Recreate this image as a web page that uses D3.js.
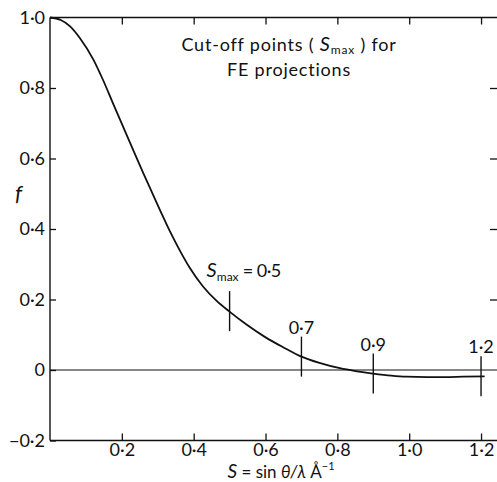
<!DOCTYPE html>
<html>
<head>
<meta charset="utf-8">
<script src="https://cdn.jsdelivr.net/npm/d3@7"></script>
<style>
  body { margin: 0; background: #fff; }
  text { font-family: Lato, "Liberation Sans", sans-serif; fill: #111; }
</style>
</head>
<body>
<svg width="497" height="482"></svg>
<script>
/**Data**/
// scattering factor curve
var sValues = [0, 0.03, 0.056, 0.083, 0.12, 0.148, 0.176, 0.204, 0.232, 0.26, 0.287, 0.311, 0.334, 0.362, 0.389, 0.426, 0.464, 0.498, 0.547, 0.598, 0.65, 0.695, 0.75, 0.807, 0.85, 0.899, 0.95, 0.992, 1.05, 1.1, 1.15, 1.21];
var fValues = [1, 0.993, 0.975, 0.942, 0.882, 0.822, 0.755, 0.689, 0.623, 0.558, 0.497, 0.443, 0.393, 0.338, 0.29, 0.237, 0.196, 0.167, 0.129, 0.094, 0.064, 0.04, 0.02, 0.005, -0.003, -0.01, -0.016, -0.019, -0.02, -0.02, -0.019, -0.018];
// cut-off points
var cutS = [0.5, 0.7, 0.9, 1.2];
var cutF = [0.167, 0.038, -0.01, -0.018];
var cutLabels = ["0·5", "0·7", "0·9", "1·2"];
// ticks
var xTicks = [0.2, 0.4, 0.6, 0.8, 1.0, 1.2];
var xTickLabels = ["0·2", "0·4", "0·6", "0·8", "1·0", "1·2"];
var yTicks = [1.0, 0.8, 0.6, 0.4, 0.2, 0, -0.2];
var yTickLabels = ["1·0", "0·8", "0·6", "0·4", "0·2", "0", "\u22120·2"];

var svg = d3.select("svg");

var x = d3.scaleLinear().domain([0, 1.25]).range([50, 499]);
var y = d3.scaleLinear().domain([-0.2, 1.0]).range([440.5, 17.5]);

var curve = sValues.map(function(s, i) { return [s, fValues[i]]; });

//frame
var frame = svg.append("g").attr("stroke", "#111").attr("stroke-width", 1.4).attr("fill", "none");
frame.append("line").attr("x1", x(0)).attr("x2", x(0)).attr("y1", y(1)).attr("y2", y(-0.2));
frame.append("line").attr("x1", x(0)).attr("x2", 497).attr("y1", y(1)).attr("y2", y(1));
frame.append("line").attr("x1", x(0)).attr("x2", 497).attr("y1", y(-0.2)).attr("y2", y(-0.2));
frame.append("line").attr("x1", x(0)).attr("x2", 497).attr("y1", y(0)).attr("y2", y(0)).attr("stroke-width", 1.1);

//axes: inward ticks on all four sides
var tickLen = 7;
svg.append("g")
	.attr("transform", "translate(0," + y(-0.2) + ")")
	.call(d3.axisBottom(x).tickValues(xTicks).tickSizeInner(-tickLen).tickSizeOuter(0).tickPadding(3)
		.tickFormat(function(d, i) { return xTickLabels[i]; }))
	.call(styleAxis);
svg.append("g")
	.attr("transform", "translate(0," + y(1) + ")")
	.call(d3.axisTop(x).tickValues(xTicks).tickSizeInner(-tickLen).tickSizeOuter(0).tickFormat(""))
	.call(styleAxis);
svg.append("g")
	.attr("transform", "translate(" + x(0) + ",0)")
	.call(d3.axisLeft(y).tickValues(yTicks).tickSizeInner(-6).tickSizeOuter(0).tickPadding(5)
		.tickFormat(function(d, i) { return yTickLabels[i]; }))
	.call(styleAxis);
svg.append("g")
	.attr("transform", "translate(497,0)")
	.call(d3.axisRight(y).tickValues([0.8, 0.6, 0.4, 0.2]).tickSizeInner(-tickLen).tickSizeOuter(0).tickFormat(""))
	.call(styleAxis);

function styleAxis(g) {
	g.select(".domain").remove();
	g.selectAll(".tick line").attr("stroke", "#111").attr("stroke-width", 1.3);
	g.selectAll(".tick text").attr("font-size", 18).attr("font-family", "Lato, sans-serif").attr("fill", "#111");
}

//curve
var line = d3.line()
	.x(function(d) { return x(d[0]); })
	.y(function(d) { return y(d[1]); })
	.curve(d3.curveMonotoneX);
svg.append("path")
	.datum(curve)
	.attr("d", line)
	.attr("fill", "none")
	.attr("stroke", "#111")
	.attr("stroke-width", 1.8);

//cut-off markers
var half = 20;
svg.append("g").selectAll("line")
	.data(cutS)
	.enter().append("line")
	.attr("x1", function(d) { return x(d); })
	.attr("x2", function(d) { return x(d); })
	.attr("y1", function(d, i) { return y(cutF[i]) - half; })
	.attr("y2", function(d, i) { return y(cutF[i]) + half; })
	.attr("stroke", "#111")
	.attr("stroke-width", 1.4);

svg.append("g").selectAll("text")
	.data(cutS.slice(1))
	.enter().append("text")
	.attr("x", function(d) { return x(d); })
	.attr("y", function(d, i) { return y(cutF[i + 1]) - half - 3; })
	.attr("text-anchor", "middle")
	.attr("font-size", 18)
	.text(function(d, i) { return cutLabels[i + 1]; });

var first = svg.append("text")
	.attr("x", x(cutS[0]) - 23)
	.attr("y", y(cutF[0]) - half - 14)
	.attr("font-size", 18);
first.append("tspan").attr("font-style", "italic").attr("font-size", 20).text("S");
first.append("tspan").attr("font-size", 12).attr("dy", 4).text("max");
first.append("tspan").attr("dy", -4).attr("letter-spacing", -0.5).text(" = " + cutLabels[0]);

//title
var title = svg.append("text")
	.attr("x", 289).attr("y", 51)
	.attr("text-anchor", "middle")
	.attr("font-size", 18)
	.attr("letter-spacing", 0.8);
title.append("tspan").text("Cut-off points ( ");
title.append("tspan").attr("font-style", "italic").attr("font-size", 20).text("S");
title.append("tspan").attr("font-size", 12).attr("dy", 3).text("max");
title.append("tspan").attr("dy", -3).text(" ) for");
svg.append("text")
	.attr("x", 289).attr("y", 76)
	.attr("text-anchor", "middle")
	.attr("font-size", 18)
	.attr("letter-spacing", 0.8)
	.text("FE projections");

//axis titles
svg.append("text")
	.attr("x", 15).attr("y", 201)
	.attr("font-size", 22)
	.attr("font-style", "italic")
	.text("f");

var xTitle = svg.append("text")
	.attr("x", 281).attr("y", 478)
	.attr("text-anchor", "middle")
	.attr("font-size", 17);
xTitle.append("tspan").attr("font-style", "italic").attr("font-size", 19).text("S");
xTitle.append("tspan").text(" = sin ");
xTitle.append("tspan").attr("font-style", "italic").text("θ/λ");
xTitle.append("tspan").text(" Å");
xTitle.append("tspan").attr("font-size", 11).attr("dy", -8).text("−1");
</script>
</body>
</html>
